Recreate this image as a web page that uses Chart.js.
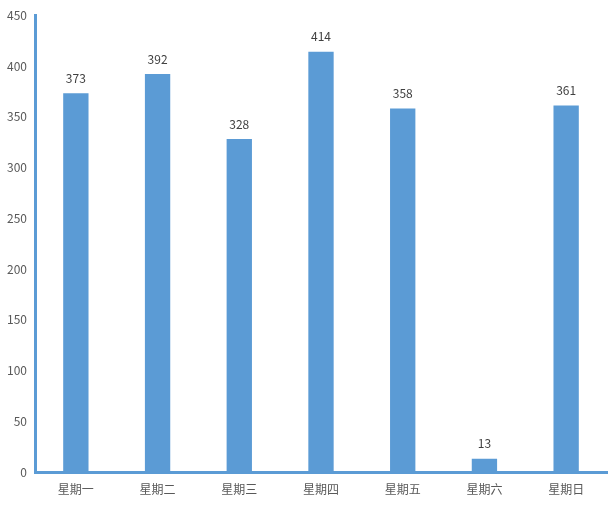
<!DOCTYPE html>
<html>
<head>
<meta charset="utf-8">
<script src="https://cdn.jsdelivr.net/npm/chart.js@4/dist/chart.umd.min.js"></script>
<style>
  html, body { margin: 0; padding: 0; background: #fff; }
  #box { width: 614px; height: 506px; }
</style>
</head>
<body>
<div id="box"><canvas id="weekChart"></canvas></div>
<script>
"use strict";
var days = ['星期一', '星期二', '星期三', '星期四', '星期五', '星期六', '星期日'];
var counts = [373, 392, 328, 414, 358, 13, 361];
var yMax = 450;
var yStep = 50;

var fontFamily = '"Noto Sans CJK SC", "Noto Sans", sans-serif';

// draw the value over each bar
var valueLabels = {
  id: 'valueLabels',
  afterDatasetsDraw(chart) {
    var ctx = chart.ctx;
    var meta = chart.getDatasetMeta(0);
    ctx.save();
    ctx.font = '12px ' + fontFamily;
    ctx.fillStyle = '#404040';
    ctx.textAlign = 'center';
    ctx.textBaseline = 'bottom';
    meta.data.forEach((bar, i) => {
      ctx.fillText(String(counts[i]), bar.x, bar.y - 9);
    });
    ctx.restore();
  }
};

new Chart(document.getElementById('weekChart').getContext('2d'), {
  type: 'bar',
  data: {
    labels: days,
    datasets: [{
      data: counts,
      backgroundColor: '#5b9bd5',
      categoryPercentage: 1,
      barPercentage: 0.31
    }]
  },
  options: {
    responsive: true,
    maintainAspectRatio: false,
    animation: false,
    layout: { padding: { top: 15, right: 7, left: 0, bottom: 0 } },
    plugins: {
      legend: { display: false },
      tooltip: { enabled: false }
    },
    scales: {
      x: {
        grid: { display: false, drawTicks: false },
        border: { display: true, color: '#5b9bd5', width: 3 },
        ticks: { color: '#595959', font: { size: 12, family: fontFamily }, padding: 10 },
        afterFit(scale) { scale.height = 34; }
      },
      y: {
        min: 0,
        max: yMax,
        grid: { display: false, drawTicks: false },
        border: { display: true, color: '#5b9bd5', width: 3 },
        ticks: { stepSize: yStep, color: '#595959', font: { size: 12, family: fontFamily }, padding: 8 },
        afterFit(scale) { scale.width = 35; }
      }
    }
  },
  plugins: [valueLabels]
});
</script>
</body>
</html>
